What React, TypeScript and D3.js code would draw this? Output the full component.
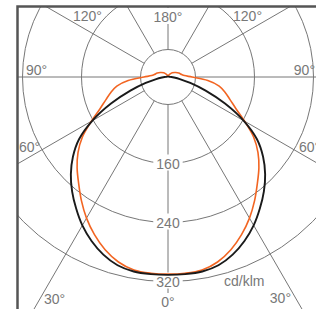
import React from 'react'
import * as d3 from 'd3'

// luminous intensity, cd/klm, by gamma angle (0 = straight down), symmetric planes
const gammaAngles = [0, 5, 10, 15, 20, 25, 30, 35, 40, 45, 50, 55, 60, 65, 70, 75, 80, 85, 90, 95, 100, 110, 120, 135, 150, 165, 180]
const blackValues = [311, 311, 310.5, 307, 299, 288, 275, 260, 245, 229, 211, 190, 161, 128, 97, 74, 59, 51, 47.5, 45.5, 44.5, 44, 43.8, 43.5, 43.3, 43.2, 43.2]
const orangeValues = [310, 309.8, 308.5, 302.4, 292, 278.6, 263.7, 247.4, 231.2, 217, 202, 184.4, 162.7, 144.4, 132.2, 122.7, 113.2, 96.9, 75.3, 65.1, 61.7, 58.2, 54.9, 50.8, 46.8, 44.7, 44]

const ringValues = [80, 160, 240, 320]
const labelledRings = [160, 240, 320]
const spokeAngles = [0, 30, 60, 90, 120, 150, 180]
const unitText = 'cd/klm'

const angleLabels = [
  {text: '180°', x: 168, y: 22, anchor: 'middle', bg: true},
  {text: '120°', x: 73, y: 21, anchor: 'start', bg: false},
  {text: '120°', x: 262, y: 21, anchor: 'end', bg: false},
  {text: '90°', x: 26, y: 75, anchor: 'start', bg: false},
  {text: '90°', x: 315, y: 75, anchor: 'end', bg: false},
  {text: '60°', x: 19, y: 152, anchor: 'start', bg: false},
  {text: '60°', x: 299, y: 152, anchor: 'start', bg: false},
  {text: '30°', x: 44, y: 304, anchor: 'start', bg: false},
  {text: '30°', x: 291, y: 303, anchor: 'end', bg: false},
  {text: '0°', x: 168, y: 307, anchor: 'middle', bg: true},
]

const W = 316
const H = 309
const cx = 168
const cy = 77
const frame = {x: 18, y: 7, w: 310, h: 320}
const font = "'Liberation Sans', Arial, sans-serif"
const textFill = '#787878'
const gridStroke = '#777'

const rScale = d3.scaleLinear().domain([160, 320]).range([86.5, 204.5])
const rad = (deg: number) => deg * Math.PI / 180

function curvePoints(values: number[]) {
  const right = gammaAngles.map((g, i) => [g, values[i]])
  const left = gammaAngles.slice(1, -1).reverse().map(g => [-g, values[gammaAngles.indexOf(g)]])
  return right.concat(left)
}

const radialLine = d3.lineRadial<number[]>()
  .angle(d => Math.PI - rad(d[0]))
  .radius(d => Math.max(0, rScale(d[1])))
  .curve(d3.curveCatmullRomClosed.alpha(0.5))

function LabelBg({x, y, text, anchor}: {x: number, y: number, text: string, anchor: string}) {
  const w = text.length * 7.8 + 6
  const left = anchor === 'middle' ? x - w / 2 : anchor === 'end' ? x - w : x
  return <rect x={left} y={y - 14} width={w} height={16} fill="#fff" />
}

export default function App() {
  const spokes = spokeAngles.flatMap(a => (a === 0 || a === 180 ? [a] : [a, -a]))
  const r0 = rScale(80)

  return (
    <svg width={W} height={H} style={{position: 'fixed', left: 0, top: 0, background: '#fff'}}>
      <defs>
        <clipPath id="frameClip">
          <rect x={frame.x} y={frame.y} width={frame.w} height={frame.h} />
        </clipPath>
      </defs>
      <rect x={0} y={0} width={W} height={H} fill="#fff" />

      <g clipPath="url(#frameClip)">
        {ringValues.map(v => (
          <circle key={v} cx={cx} cy={cy} r={rScale(v)} fill="none" stroke={gridStroke} strokeWidth={1} />
        ))}
        {spokes.map(a => {
          const g = rad(a)
          return (
            <line key={a}
              x1={cx + r0 * Math.sin(g)} y1={cy + r0 * Math.cos(g)}
              x2={cx + 500 * Math.sin(g)} y2={cy + 500 * Math.cos(g)}
              stroke={gridStroke} strokeWidth={1} />
          )
        })}
      </g>

      {labelledRings.map(v => {
        const y = cy + rScale(v) + 5
        const t = String(v)
        return (
          <g key={v}>
            <LabelBg x={cx} y={y} text={t} anchor="middle" />
            <text x={cx} y={y} textAnchor="middle" fontFamily={font} fontSize={14} fill={textFill}>{t}</text>
          </g>
        )
      })}

      {angleLabels.map((l, i) => (
        <g key={i}>
          {l.bg && <LabelBg x={l.x} y={l.y} text={l.text} anchor={l.anchor} />}
          <text x={l.x} y={l.y} textAnchor={l.anchor as any} fontFamily={font} fontSize={14} fill={textFill}>{l.text}</text>
        </g>
      ))}

      <text x={224} y={286} fontFamily={font} fontSize={14} fill={textFill}>{unitText}</text>

      <g transform={`translate(${cx},${cy})`}>
        <path d={radialLine(curvePoints(orangeValues)) || ''} fill="none" stroke="#f26522" strokeWidth={1.6} />
        <path d={radialLine(curvePoints(blackValues)) || ''} fill="none" stroke="#1a1a1a" strokeWidth={1.9} />
      </g>

      <path d={`M${frame.x - 0.5},${H + 5} V${frame.y - 0.5} H${W + 5}`} fill="none" stroke="#555" strokeWidth={2.5} />
    </svg>
  )
}
